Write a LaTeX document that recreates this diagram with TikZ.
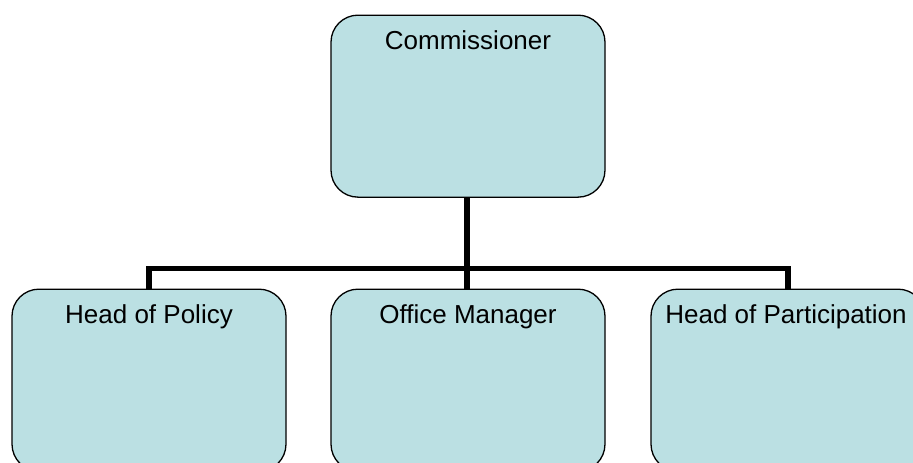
\documentclass[tikz,border=0pt]{standalone}
\usepackage{fontspec}
\setmainfont{Liberation Sans}
\definecolor{boxfill}{RGB}{187,224,227}
\begin{document}
\begin{tikzpicture}[x=1pt,y=-1pt,
  orgbox/.style={draw=black, line width=1.3pt, fill=boxfill, rounded corners=27pt,
    minimum width=274pt, minimum height=182pt, inner sep=0pt, anchor=north},
  boxlabel/.style={anchor=base, font=\fontsize{26}{30}\selectfont, inner sep=0pt},
  link/.style={line width=5.5pt}]
\useasboundingbox (0,0) rectangle (913,463);
\clip (0,0) rectangle (913,463);
\node[orgbox] (comm) at (468,14.5) {};
\node[orgbox] (pol) at (149,288.5) {};
\node[orgbox] (off) at (468,288.5) {};
\node[orgbox] (par) at (788,288.5) {};
\node[boxlabel] (tcomm) at ([yshift=-35pt]comm.north) {Commissioner};
\node[boxlabel] (tpol) at ([yshift=-35pt]pol.north) {Head of Policy};
\node[boxlabel] (toff) at ([yshift=-35pt]off.north) {Office Manager};
\node[boxlabel] (tpar) at ([yshift=-35pt,xshift=-2pt]par.north) {Head of Participation};
\coordinate (bus) at (467,268.7);
\draw[link] ([xshift=-1pt]comm.south) -- ([xshift=-1pt]off.north);
\draw[link] (pol.north) |- (bus) -| (par.north);
\end{tikzpicture}
\end{document}
